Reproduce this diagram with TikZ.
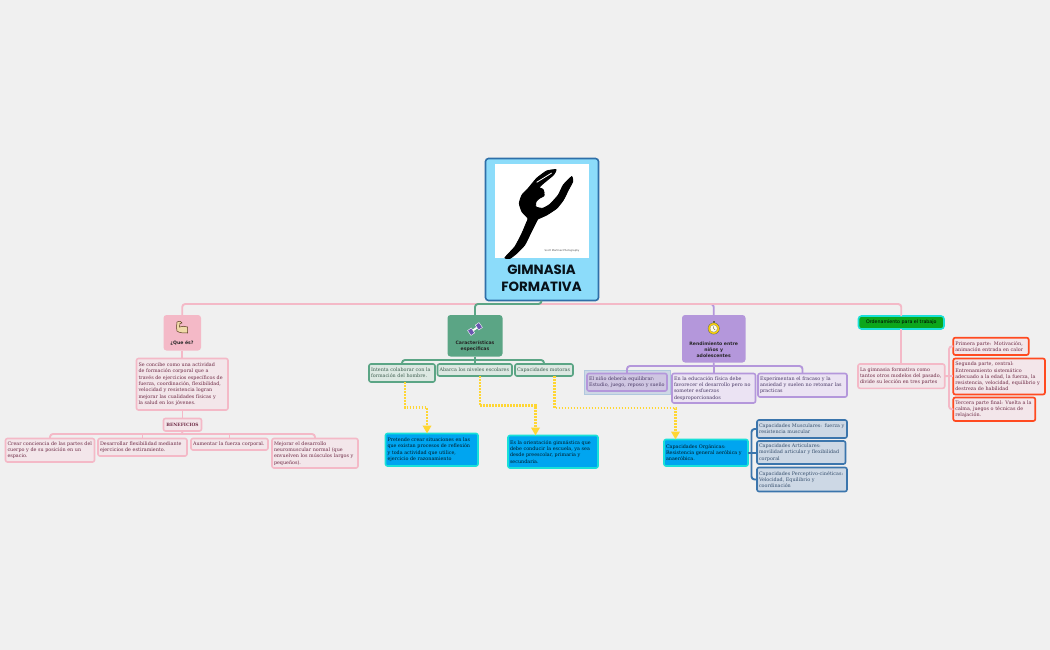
\documentclass[tikz,border=0pt]{standalone}
\usepackage{fontspec}
\setmainfont{DejaVu Serif}
\setsansfont{DejaVu Sans}
\newfontfamily\titlefont{Poppins}
\usetikzlibrary{arrows.meta,calc}
\definecolor{bgc}{HTML}{F0F0F0}
\definecolor{pinkc}{HTML}{F4B9C7}
\definecolor{pinkl}{HTML}{F3E6EA}
\definecolor{maroon}{HTML}{6E2A45}
\definecolor{greenc}{HTML}{5BA585}
\definecolor{greenl}{HTML}{DCE8E2}
\definecolor{greent}{HTML}{3F5F50}
\definecolor{purc}{HTML}{B497DB}
\definecolor{purl}{HTML}{EBE3F3}
\definecolor{purd}{HTML}{CFC6E2}
\definecolor{purt}{HTML}{4A3A66}
\definecolor{bluec}{HTML}{3B75AC}
\definecolor{bluel}{HTML}{CDD8E5}
\definecolor{bluet}{HTML}{37506E}
\definecolor{cyanb}{HTML}{19E0D8}
\definecolor{skyf}{HTML}{00A5F0}
\definecolor{yel}{HTML}{FFD633}
\definecolor{redb}{HTML}{FF4A20}
\definecolor{rootf}{HTML}{8CDCFA}
\definecolor{rootb}{HTML}{2F6FA8}
\definecolor{armf}{HTML}{F0D9A8}
\definecolor{ordf}{HTML}{0CA61C}
\definecolor{dumb}{HTML}{6A55B0}
\tikzset{
  x=1pt,y=-1pt,
  boxbase/.style={rectangle,rounded corners=2,inner sep=0,outer sep=0,align=left,
     font=\fontsize{4.85}{6.3}\selectfont},
  pinkbox/.style={boxbase,draw=pinkc,line width=1.6,fill=pinkl,text=maroon},
  greenbox/.style={boxbase,draw=greenc,line width=1.6,fill=greenl,text=greent},
  purbox/.style={boxbase,draw=purc,line width=1.6,fill=purl,text=purt},
  purdark/.style={boxbase,draw=purc,line width=1.6,fill=purd,text=purt},
  bluebox/.style={boxbase,draw=bluec,line width=1.6,fill=bluel,text=bluet},
  skybox/.style={boxbase,draw=cyanb,line width=1.6,fill=skyf,text=black!85!skyf},
  redbox/.style={boxbase,draw=redb,line width=1.7,fill=pinkl,text=maroon},
  topic/.style={rectangle,rounded corners=3,inner sep=0,outer sep=0,align=center},
  pinkline/.style={draw=pinkc,line width=1.9,rounded corners=3},
  greenline/.style={draw=greenc,line width=1.9,rounded corners=3},
  purline/.style={draw=purc,line width=1.9,rounded corners=3},
  blueline/.style={draw=bluec,line width=1.9,rounded corners=3},
  yelline/.style={draw=yel,line width=2.4,dash pattern=on 1.9 off 1.1,
     -{Triangle[width=8.5,length=8,fill=yel,color=yel,sep=0pt]}},
}
% name, style, x1, y1, x2, y2, text
\newcommand{\bx}[7]{%
  \pgfmathsetmacro{\bw}{#5-#3}\pgfmathsetmacro{\bh}{#6-#4}%
  \pgfmathsetmacro{\bcx}{(#3+#5)/2}\pgfmathsetmacro{\bcy}{(#4+#6)/2}%
  \pgfmathsetmacro{\btw}{#5-#3-4}%
  \node[#2,minimum width=\bw pt,minimum height=\bh pt,text width=\btw pt] (#1) at (\bcx,\bcy) {#7};}
\newcommand{\tp}[7]{%
  \pgfmathsetmacro{\bw}{#5-#3}\pgfmathsetmacro{\bh}{#6-#4}%
  \pgfmathsetmacro{\bcx}{(#3+#5)/2}\pgfmathsetmacro{\bcy}{(#4+#6)/2}%
  \node[topic,#2,minimum width=\bw pt,minimum height=\bh pt] (#1) at (\bcx,\bcy) {};}
\begin{document}
\begin{tikzpicture}
\fill[bgc] (0,0) rectangle (1050,650);
\useasboundingbox (0,0) rectangle (1050,650);

% root
\tp{root}{draw=rootb,line width=1.6,fill=rootf}{485.5}{158.5}{598.5}{300.5}{}
\node[rectangle,fill=white,inner sep=0,minimum width=94.5pt,minimum height=94pt] (photo) at (541.8,211) {};
\begin{scope}[x={(0.3333pt,0pt)},y={(0pt,-0.3333pt)},shift={(500pt,-165pt)}]
  \filldraw[black,line width=0.9pt] plot[smooth cycle,tension=0.3] coordinates {
   (15,278)(45,245)(66,205)(80,172)(84,160)(66,140)(58,115)(66,90)(85,70)
   (110,40)(140,18)(168,14)(160,30)(130,55)(117,68)(130,75)(132,92)(118,100)
   (108,110)(108,126)(128,130)(150,118)(175,90)(190,60)(215,35)(218,50)(205,75)
   (190,105)(170,130)(140,150)(114,162)(108,172)(94,200)(74,240)(50,265)(30,280)};
  \fill[black] (118,82) circle[radius=15];
  \draw[white,line width=0.8pt] (110,52)--(155,24);
\end{scope}
\node[inner sep=0,text=black!70,font=\sffamily\fontsize{2.5}{3}\selectfont] (credit) at (562,250.5) {Scott Martinez Photography};
\node[inner sep=0,align=center,text=black!85!rootb,font=\titlefont\bfseries\fontsize{13.4}{17}\selectfont] (title) at (541.5,278.5) {GIMNASIA\\FORMATIVA};

% topics
\tp{que}{fill=pinkc}{163.5}{315}{201}{350.5}{}
\node[inner sep=0,font=\sffamily\bfseries\fontsize{4.6}{6}\selectfont,text=black!85] (quet) at (182,343) {¿Que és?};
\tp{car}{fill=greenc}{447.5}{315}{502.5}{356.5}{}
\node[inner sep=0,align=center,font=\sffamily\bfseries\fontsize{4.6}{5.9}\selectfont,text=black!85] (cart) at (475,346) {Características\\específicas};
\tp{ren}{fill=purc}{682}{315}{745.5}{362.5}{}
\node[inner sep=0,align=center,font=\sffamily\bfseries\fontsize{4.6}{6.2}\selectfont,text=black!85] (rent) at (713.7,349.5) {Rendimiento entre\\niños y\\adolescentes};
\tp{ord}{draw=cyanb,line width=1.6,fill=ordf}{858.5}{316}{944}{329}{}
\node[inner sep=0,font=\sffamily\fontsize{4.75}{6}\selectfont,text=black] (ordt) at (901.3,322.5) {Ordenamiento para el trabajo};

% icons
\begin{scope}[shift={(182pt,-328pt)}]
  \fill[armf,draw=black!55!brown,line width=0.5] (-5,-6) .. controls (-2,-7.5) and (0,-6) .. (0,-5)
     -- (-2,-4.5) -- (-2.5,-1) .. controls (0,-2) and (3,-2) .. (5.5,-1)
     -- (5.5,5) .. controls (2,5) and (-3,5) .. (-5,3) -- (-5.5,-1) -- cycle;
\end{scope}
\begin{scope}[shift={(475pt,-329pt)},rotate=35]
  \draw[white,line width=1.8] (-4,0)--(4,0);
  \fill[dumb,draw=white,line width=0.4] (-7,-3) rectangle (-2.5,3);
  \fill[dumb,draw=white,line width=0.4] (2.5,-3) rectangle (7,3);
\end{scope}
\begin{scope}[shift={(713.7pt,-328.5pt)}]
  \fill[black!70!yellow] (-0.8,-7.2) rectangle (0.8,-5);
  \fill[yellow!70!orange,draw=black!60,line width=0.4] (0,0) circle (5.7);
  \fill[white!90!yellow,draw=black!50,line width=0.3] (0,0) circle (3.7);
  \draw[black!70,line width=0.4] (0,0)--(1.4,1.6) (0,0)--(-0.5,-2.2);
\end{scope}

% trunk
\coordinate (trunk) at (541.5,304);
\bx{desc}{pinkbox}{136.5}{358.5}{228}{410}{Se concibe como una actividad\\de formación corporal que a\\través de ejercicios específicos de\\fuerza, coordinación, flexibilidad,\\velocidad y resistencia logran\\mejorar las cualidades físicas y\\la salud en los jóvenes.}
\node[boxbase,draw=pinkc,line width=1.6,fill=pinkl,text=maroon,align=center,font=\bfseries\fontsize{4.4}{6}\selectfont,minimum width=38pt,minimum height=12.5pt] (ben) at (182.5,424.7) {BENEFICIOS};
\bx{b1}{pinkbox}{5.5}{438.5}{94.5}{462}{Crear conciencia de las partes del\\cuerpo y de su posición en un\\espacio.}
\bx{b2}{pinkbox}{98}{438.5}{187}{456}{Desarrollar flexibilidad mediante\\ejercicios de estiramiento.}
\bx{b3}{pinkbox}{191}{438.5}{268}{450}{Aumentar la fuerza corporal.}
\bx{b4}{pinkbox}{272}{438.5}{358}{468}{Mejorar el desarrollo\\neuromuscular normal (que\\envuelven los músculos largos y\\pequeños).}

\bx{g1}{greenbox}{369}{364}{435}{382}{Intenta colaborar con la\\formación del hombre.}
\bx{g2}{greenbox}{437.5}{364}{512}{376}{Abarca los niveles escolares}
\bx{g3}{greenbox}{515}{364}{573}{376}{Capacidades motoras}
\bx{s1}{skybox}{385.5}{433.5}{478}{466}{Pretende crear situaciones en las\\que existan procesos de reflexión\\y toda actividad que utilice,\\ejercicio de razonamiento}
\bx{s2}{skybox}{508}{435.5}{598}{468}{Es la orientación gimnástica que\\debe conducir la escuela, ya sea\\desde preescolar, primaria y\\secundaria.}
\bx{s3}{skybox}{664}{439.5}{748}{466}{Capacidades Orgánicas:\\Resistencia general aeróbica y\\anaeróbica.}

\node[rectangle,draw=bluec!40,fill=bluel,line width=0.8,inner sep=0,minimum width=86pt,minimum height=24pt] (rhi) at (627,382) {};
\bx{r1}{purdark}{587}{373.5}{667}{391}{El niño debería equilibrar:\\Estudio, juego, reposo y sueño}
\bx{r2}{purbox}{672}{373.5}{755.5}{403}{En la educación física debe\\favorecer el desarrollo pero no\\someter esfuerzos\\desproporcionados}
\bx{r3}{purbox}{758}{373.5}{847}{397}{Experimentan  el fracaso y la\\ansiedad y suelen no retomar las\\practicas}

\bx{c1}{bluebox}{757}{420}{847}{438}{Capacidades Musculares: fuerza y\\resistencia muscular}
\bx{c2}{bluebox}{757}{441}{845.5}{464}{Capacidades Articulares:\\movilidad articular y flexibilidad\\corporal}
\bx{c3}{bluebox}{757}{467.5}{847}{491.5}{Capacidades Perceptivo-cinéticas:\\Velocidad, Equilibrio y\\coordinación}

\bx{la}{pinkbox}{858}{364}{944.7}{388.3}{La gimnasia formativa como\\tantos otros modelos del pasado,\\divide su lección en tres partes}
\bx{o1}{redbox}{953.3}{337.7}{1028.7}{355}{Primera parte: Motivación,\\animación entrada en calor}
\bx{o2}{redbox}{953.3}{358.5}{1045}{394.5}{Segunda parte, central:\\Entrenamiento sistemático\\adecuado a la edad, la fuerza, la\\resistencia, velocidad, equilibrio y\\destreza de habilidad}
\bx{o3}{redbox}{953.3}{397.5}{1035.3}{421}{Tercera parte final: Vuelta a la\\calma, juegos o técnicas de\\relajación.}

% connectors
\draw[purline] (ren.north) -- (ren.north |- trunk) -- (trunk);
\draw[pinkline] (que.north) -- (que.north |- trunk) -- (ord.north |- trunk) -- (ord.north);
\draw[greenline] (car.north) -- (car.north |- trunk) -- (trunk) -- (root.south -| trunk);
\draw[pinkline] (que.south) -- (desc.north -| que.south);
\draw[pinkline] (desc.south -| ben.north) -- (ben.north);
\coordinate (bj) at (182,434);
\draw[pinkline] (ben.south) -- (bj);
\draw[pinkline] (b1.north) -- (b1.north |- bj) -- (bj -| b4.north) -- (b4.north);
\draw[pinkline] (b2.north) -- (b2.north |- bj);
\draw[pinkline] (b3.north) -- (b3.north |- bj);
\coordinate (gj) at (475,360);
\draw[greenline] (car.south) -- (gj);
\draw[greenline] (g1.north) -- (g1.north |- gj) -- (g3.north |- gj) -- (g3.north);
\draw[greenline] (g2.north) -- (g2.north |- gj);
\coordinate (rj) at (713.7,366);
\draw[purline] (ren.south) -- (rj);
\draw[purline] (r1.north) -- (r1.north |- rj) -- (r3.north |- rj) -- (r3.north);
\draw[purline] (r2.north) -- (r2.north |- rj);
\draw[pinkline] (ord.south) -- (ord.south |- la.north);
\coordinate (oj) at (949,376);
\draw[pinkline] (la.east) -- (oj);
\draw[pinkline] (o1.west) -- (o1.west -| oj) -- (o3.west -| oj) -- (o3.west);
\draw[pinkline] (oj) -- (o2.west |- oj);
\coordinate (cj) at (751.5,452.5);
\draw[blueline] (s3.east) -- (s3.east -| c2.west);
\draw[blueline] (c1.west) -- (c1.west -| cj) -- (c3.west -| cj) -- (c3.west);
\draw[yelline] ($(g1.south)+(3,0)$) -- ++(0,25.5) -| ($(s1.north)+(-4.7,0)$);
\draw[yelline] ($(g2.south)+(5,0)$) -- ++(0,29.5) -| ($(s2.north)+(-17.5,0)$);
\draw[yelline] ($(g3.south)+(10.5,0)$) -- ++(0,32) -| ($(s3.north)+(-30.5,0)$);
\end{tikzpicture}
\end{document}
